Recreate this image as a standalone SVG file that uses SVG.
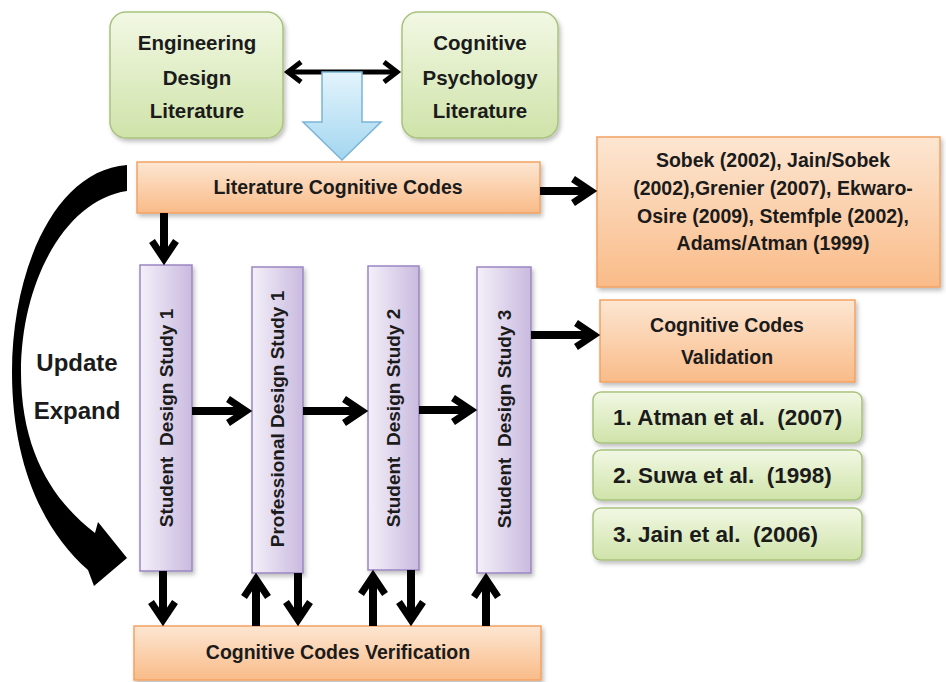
<svg xmlns="http://www.w3.org/2000/svg" width="946" height="682" viewBox="0 0 946 682">
<defs>
  <linearGradient id="gGreen" x1="0" y1="0" x2="0" y2="1">
    <stop offset="0" stop-color="#f2f8e4"/>
    <stop offset="1" stop-color="#cfe3a9"/>
  </linearGradient>
  <linearGradient id="gOrange" x1="0" y1="0" x2="0" y2="1">
    <stop offset="0" stop-color="#fde6d2"/>
    <stop offset="1" stop-color="#f9bb88"/>
  </linearGradient>
  <linearGradient id="gPurple" x1="0" y1="0" x2="1" y2="0">
    <stop offset="0" stop-color="#f4f0f9"/>
    <stop offset="1" stop-color="#c9badf"/>
  </linearGradient>
  <linearGradient id="gBlue" x1="0" y1="0" x2="0" y2="1">
    <stop offset="0" stop-color="#e3f4fc"/>
    <stop offset="1" stop-color="#a3d6f0"/>
  </linearGradient>
  <filter id="sh" x="-10%" y="-10%" width="130%" height="130%">
    <feDropShadow dx="2" dy="3" stdDeviation="2" flood-color="#000" flood-opacity="0.25"/>
  </filter>
  <marker id="ah" markerUnits="userSpaceOnUse" markerWidth="40" markerHeight="40" viewBox="-25 -20 40 40" refX="0" refY="0" orient="auto" overflow="visible">
    <path d="M-18,-12 L0,0 L-18,12" fill="none" stroke="#000" stroke-width="7"/>
  </marker>
  <marker id="ahs" markerUnits="userSpaceOnUse" markerWidth="30" markerHeight="30" viewBox="-20 -15 30 30" refX="0" refY="0" orient="auto-start-reverse" overflow="visible">
    <path d="M-13,-10 L0,0 L-13,10" fill="none" stroke="#000" stroke-width="5"/>
  </marker>
</defs>
<style>
  .t { font-family: "Liberation Sans", Arial, sans-serif; font-weight: bold; fill: #1b1b1b; }
  .green { fill: url(#gGreen); stroke: #a8c27d; stroke-width: 1.5; filter: url(#sh); }
  .orange { fill: url(#gOrange); stroke: #f2a263; stroke-width: 1.5; filter: url(#sh); }
  .purple { fill: url(#gPurple); stroke: #9a86c2; stroke-width: 1.5; filter: url(#sh); }
  .arr { stroke: #000; stroke-width: 8; fill: none; marker-end: url(#ah); }
</style>
<rect width="946" height="682" fill="#fff"/>

<g id="engineering-design-literature">
  <rect class="green" x="110" y="12" width="173" height="126" rx="16"/>
  <text class="t" font-size="20.5" text-anchor="middle" x="197" y="50">Engineering</text>
  <text class="t" font-size="20.5" text-anchor="middle" x="197" y="85">Design</text>
  <text class="t" font-size="20.5" text-anchor="middle" x="197" y="118">Literature</text>
</g>
<g id="cognitive-psychology-literature">
  <rect class="green" x="402" y="12" width="156" height="126" rx="16"/>
  <text class="t" font-size="20.5" text-anchor="middle" x="480" y="50">Cognitive</text>
  <text class="t" font-size="20.5" text-anchor="middle" x="480" y="85">Psychology</text>
  <text class="t" font-size="20.5" text-anchor="middle" x="480" y="118">Literature</text>
</g>

<g id="literature-cognitive-codes">
  <rect class="orange" x="137" y="162" width="403" height="51"/>
  <text class="t" font-size="19.5" text-anchor="middle" x="338" y="194">Literature Cognitive Codes</text>
</g>

<g id="sobek-references">
  <rect class="orange" x="597" y="137" width="343" height="150"/>
  <text class="t" font-size="19.5" text-anchor="middle" x="773" y="167">Sobek (2002), Jain/Sobek</text>
  <text class="t" font-size="19.5" text-anchor="middle" x="773" y="195">(2002),Grenier (2007), Ekwaro-</text>
  <text class="t" font-size="19.5" text-anchor="middle" x="773" y="223">Osire (2009), Stemfple (2002),</text>
  <text class="t" font-size="19.5" text-anchor="middle" x="773" y="250">Adams/Atman (1999)</text>
</g>

<g id="cognitive-codes-validation">
  <rect class="orange" x="600" y="300" width="255" height="82"/>
  <text class="t" font-size="19.5" text-anchor="middle" x="727" y="332">Cognitive Codes</text>
  <text class="t" font-size="19.5" text-anchor="middle" x="727" y="364">Validation</text>
</g>

<g id="atman-2007">
  <rect class="green" x="593" y="392" width="269" height="51" rx="8"/>
  <text class="t" font-size="22.5" x="613" y="425" xml:space="preserve">1. Atman et al.  (2007)</text>
</g>
<g id="suwa-1998">
  <rect class="green" x="593" y="450" width="269" height="50" rx="8"/>
  <text class="t" font-size="22.5" x="613" y="483" xml:space="preserve">2. Suwa et al.  (1998)</text>
</g>
<g id="jain-2006">
  <rect class="green" x="593" y="508" width="269" height="52" rx="8"/>
  <text class="t" font-size="22.5" x="613" y="542" xml:space="preserve">3. Jain et al.  (2006)</text>
</g>

<g id="student-design-study-1">
  <rect class="purple" x="140" y="265" width="52" height="306"/>
  <text class="t" font-size="19" text-anchor="middle" transform="translate(172.5,418) rotate(-90)" xml:space="preserve">Student  Design Study 1</text>
</g>
<g id="professional-design-study-1">
  <rect class="purple" x="252" y="267" width="51" height="306"/>
  <text class="t" font-size="19" text-anchor="middle" transform="translate(284,419) rotate(-90)">Professional Design Study 1</text>
</g>
<g id="student-design-study-2">
  <rect class="purple" x="368" y="266" width="51" height="304"/>
  <text class="t" font-size="19" text-anchor="middle" transform="translate(400,418) rotate(-90)" xml:space="preserve">Student  Design Study 2</text>
</g>
<g id="student-design-study-3">
  <rect class="purple" x="477" y="267" width="54" height="306"/>
  <text class="t" font-size="19" text-anchor="middle" transform="translate(510.5,419) rotate(-90)" xml:space="preserve">Student  Design Study 3</text>
</g>

<g id="cognitive-codes-verification">
  <rect class="orange" x="134" y="626" width="407" height="54"/>
  <text class="t" font-size="19.5" text-anchor="middle" x="338" y="659">Cognitive Codes Verification</text>
</g>

<g id="update-expand-label">
  <text class="t" font-size="24" text-anchor="middle" x="77" y="371">Update</text>
  <text class="t" font-size="24" text-anchor="middle" x="77" y="419">Expand</text>
</g>

<g id="connectors">
  <line x1="288" y1="72" x2="397" y2="72" stroke="#000" stroke-width="5" marker-start="url(#ahs)" marker-end="url(#ahs)"/>
  <path d="M322,72 H362 V122 H381 L342,160 L303,122 H322 Z" fill="url(#gBlue)" stroke="#7ab4d6" stroke-width="1.5"/>
  <path d="M127,165 C55,170 12,270 12,372 C12,462 42,530 88,570 L94,586 L127,558 L98,522 L95,533 C52,500 21,450 21,372 C21,282 65,200 127,191 Z" fill="#000"/>
  <line class="arr" x1="164" y1="213" x2="164" y2="259"/>
  <line class="arr" x1="540" y1="191" x2="591" y2="191"/>
  <line class="arr" x1="192" y1="411" x2="246" y2="411"/>
  <line class="arr" x1="303" y1="411" x2="362" y2="411"/>
  <line class="arr" x1="419" y1="410" x2="471" y2="410"/>
  <line class="arr" x1="531" y1="335" x2="594" y2="335"/>
  <line class="arr" x1="163" y1="571" x2="163" y2="620"/>
  <line class="arr" x1="256" y1="626" x2="256" y2="579"/>
  <line class="arr" x1="298" y1="573" x2="298" y2="620"/>
  <line class="arr" x1="373" y1="626" x2="373" y2="576"/>
  <line class="arr" x1="411" y1="570" x2="411" y2="620"/>
  <line class="arr" x1="486" y1="626" x2="486" y2="579"/>
</g>
</svg>
